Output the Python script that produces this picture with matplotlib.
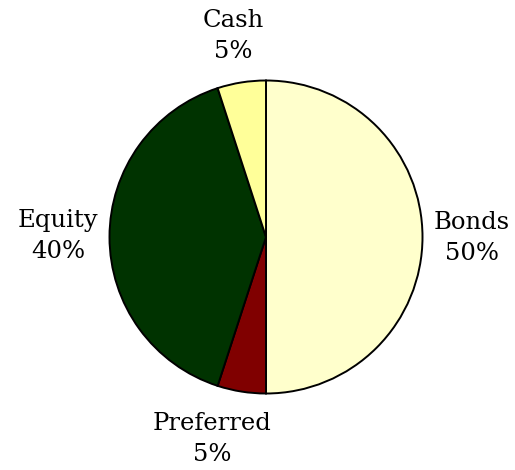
import matplotlib
matplotlib.use("Agg")
import matplotlib.pyplot as plt

categories = ["Bonds", "Preferred", "Equity", "Cash"]
values = [50, 5, 40, 5]
colors = ["#FFFFCC", "#800000", "#003300", "#FFFF99"]

# label anchor positions (pixel coords, y from top)
label_pos = {"Bonds": (472, 238), "Preferred": (212, 439), "Equity": (58, 236), "Cash": (233, 36)}

W, H = 515, 470
fig = plt.figure(figsize=(W / 100, H / 100), dpi=100)
ax = fig.add_axes([0, 0, 1, 1])

ax.pie(values, colors=colors, startangle=90, counterclock=False,
       center=(266, H - 237), radius=156.5,
       wedgeprops=dict(edgecolor="black", linewidth=1.4), frame=True)
ax.set_xlim(0, W)
ax.set_ylim(0, H)
ax.set_aspect("equal")
ax.axis("off")

for cat, v in zip(categories, values):
    x, y = label_pos[cat]
    ax.text(x, H - y, f"{cat}\n{v}%", ha="center", va="center",
            fontsize=17.5, family="DejaVu Serif", linespacing=1.4,
            color="black")

fig.savefig("out.png", dpi=100)
